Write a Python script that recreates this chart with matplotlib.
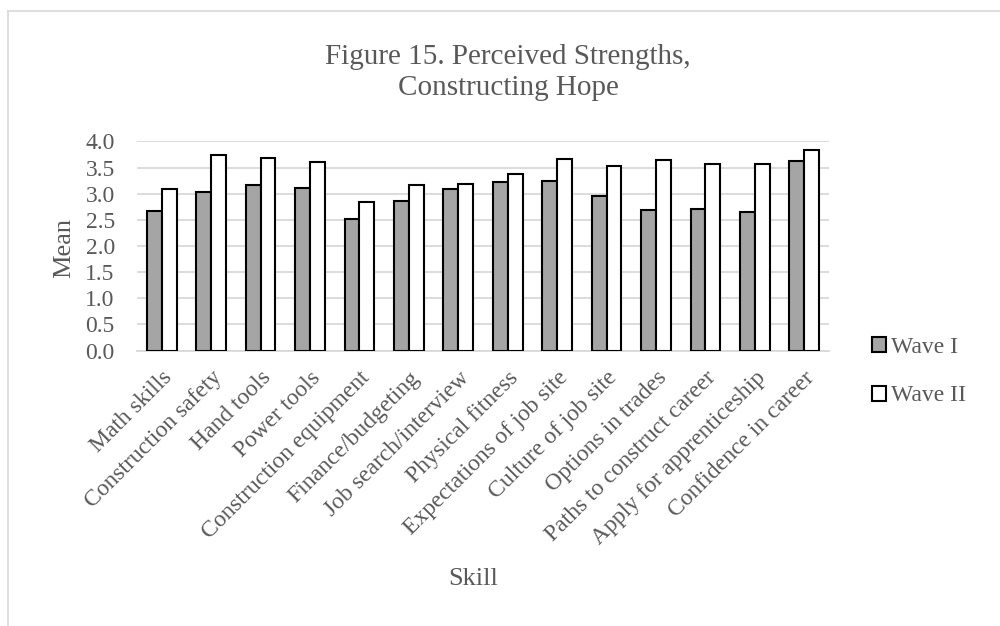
import numpy as np
import matplotlib.pyplot as plt
from matplotlib.lines import Line2D

skills = ["Math skills", "Construction safety", "Hand tools", "Power tools",
          "Construction equipment", "Finance/budgeting", "Job search/interview",
          "Physical fitness", "Expectations of job site", "Culture of job site",
          "Options in trades", "Paths to construct career",
          "Apply for apprenticeship", "Confidence in career"]
wave1 = [2.67, 3.03, 3.16, 3.11, 2.51, 2.87, 3.10, 3.22, 3.25, 2.96, 2.68, 2.71, 2.65, 3.62]
wave2 = [3.10, 3.74, 3.69, 3.60, 2.85, 3.16, 3.19, 3.37, 3.66, 3.53, 3.64, 3.56, 3.56, 3.83]
yticks = [0.0, 0.5, 1.0, 1.5, 2.0, 2.5, 3.0, 3.5, 4.0]

plt.rcParams['font.family'] = ['Liberation Serif', 'DejaVu Serif']
txt = '#595959'

fig = plt.figure(figsize=(10, 6.26), dpi=100)
ax = fig.add_axes([0.137, 0.440, 0.692, 0.334])

x = np.arange(len(skills))
w = 0.30
ax.bar(x - w / 2, wave1, w, color='#a5a5a5', edgecolor='black', linewidth=1.5,
       label='Wave I', zorder=3)
ax.bar(x + w / 2, wave2, w, color='white', edgecolor='black', linewidth=1.5,
       label='Wave II', zorder=3)

ax.set_ylim(0, 4.0)
ax.set_xlim(-0.5, len(skills) - 0.5)
ax.set_yticks(yticks)
ax.set_yticklabels([f"{v:.1f}" for v in yticks])
ax.yaxis.grid(True, color='#d9d9d9', linewidth=1.3, zorder=0)
ax.set_axisbelow(True)
for s in ['top', 'right', 'left']:
    ax.spines[s].set_visible(False)
ax.spines['bottom'].set_color('#d9d9d9')
ax.spines['bottom'].set_linewidth(1.3)
ax.tick_params(axis='both', length=0, labelsize=17, colors=txt)
ax.tick_params(axis='y', pad=16)
ax.tick_params(axis='x', pad=12)
ax.set_xticks(x)
ax.set_xticklabels(skills, rotation=45, ha='right', rotation_mode='anchor')

fig.text(0.064, 0.604, 'Mean', fontsize=19, color=txt, rotation=90,
         ha='center', va='center')
fig.text(0.473, 0.075, 'Skill', fontsize=19, color=txt, ha='center', va='center')
fig.text(0.508, 0.884, 'Figure 15. Perceived Strengths,\nConstructing Hope',
         fontsize=21, color=txt, ha='center', va='center', linespacing=1.25)

fig.legend(loc='center left', bbox_to_anchor=(0.872, 0.406), frameon=False,
           fontsize=17, labelcolor=txt, handlelength=0.6, handleheight=0.6,
           handletextpad=0.2, labelspacing=1.15, borderpad=0, borderaxespad=0)

# chart border (only left and top edges visible in the crop)
fig.add_artist(Line2D([0.0075, 0.0075], [0, 1 - 11 / 626], transform=fig.transFigure,
                      color='#d9d9d9', linewidth=1.2))
fig.add_artist(Line2D([0.0075, 1], [1 - 11 / 626, 1 - 11 / 626], transform=fig.transFigure,
                      color='#d9d9d9', linewidth=1.2))

fig.savefig('out.png', dpi=100)
